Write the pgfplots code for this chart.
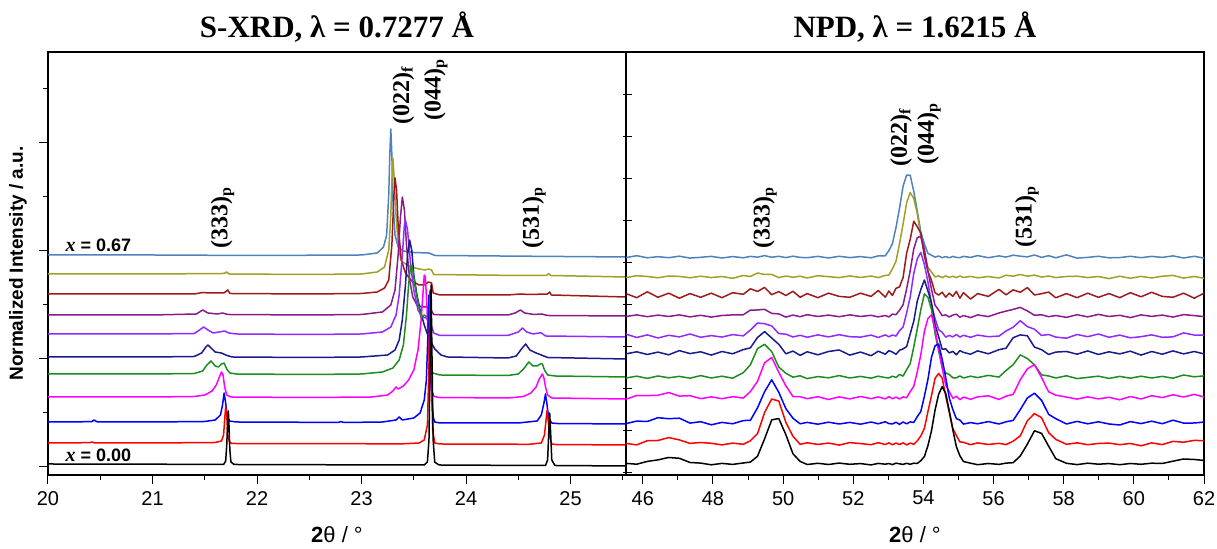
\documentclass[border=0pt]{standalone}
\usepackage{fontspec}
\setmainfont{Liberation Sans}
\newfontfamily\timesfont{Liberation Serif}
\usepackage{pgfplots}
\pgfplotsset{compat=1.18}
\usepackage{pgfplotstable}

\definecolor{cBlack}{HTML}{000000}
\definecolor{cRed}{HTML}{FF0000}
\definecolor{cBlue}{HTML}{0000FF}
\definecolor{cMag}{HTML}{FF00FF}
\definecolor{cGreen}{HTML}{1E8C1E}
\definecolor{cNavy}{HTML}{1A1A8C}
\definecolor{cViolet}{HTML}{8F2BFF}
\definecolor{cPurple}{HTML}{8B1A8B}
\definecolor{cDarkred}{HTML}{9E1A1A}
\definecolor{cOlive}{HTML}{A0A028}
\definecolor{cSteel}{HTML}{4F81BD}

% NPD patterns, one column per composition (a = x 0.00 ... k = x 0.67), offset stacked
\pgfplotstableread{
x      a    b     c     d     e     f     g     h     i     j     k
45.520 11.6 31.6  51.4  75.8  97.0  121.1 140.8 158.5 181.4 197.4 217.4
45.826 10.8 30.1  53.9  79.5  98.8  123.2 137.5 160.1 177.3 199.3 219.3
46.130 13.6 34.3  53.5  79.4  96.6  120.5 140.1 158.3 183.2 198.5 217.2
46.430 15.1 34.5  57.3  79.7  99.0  122.9 137.0 159.9 177.7 197.2 218.3
46.737 17.5 37.4  56.3  82.4  97.2  120.2 139.7 158.5 181.8 199.0 217.3
47.041 16.7 35.1  56.8  78.9  98.6  124.4 138.1 160.1 176.8 198.6 218.8
47.345 12.5 31.6  51.9  79.3  96.8  121.4 141.0 158.1 181.4 197.2 216.9
47.649 11.9 32.5  53.3  76.4  99.4  123.2 137.7 159.7 177.7 198.8 217.7
47.952 10.2 31.7  50.2  78.1  97.0  119.9 139.4 157.9 181.8 197.4 218.6
48.256 11.6 30.1  52.6  76.3  98.8  123.5 137.9 159.5 177.3 198.5 217.0
48.560 10.6 31.9  51.2  78.3  96.8  121.2 140.4 160.1 182.3 196.7 218.4
48.864 12.0 30.7  54.4  76.9  102.3 125.4 139.1 160.2 180.7 199.5 217.2
49.066 12.9 34.2  54.7  83.4  110.2 127.1 144.9 164.9 186.2 198.5 218.6
49.269 18.7 41.3  67.1  93.6  126.3 137.5 152.0 165.0 183.5 202.0 217.8
49.471 36.1 62.5  83.3  112.2 130.7 143.4 151.3 165.7 187.6 200.5 219.4
49.674 55.1 76.0  95.2  117.5 123.4 137.0 149.0 161.6 180.3 200.6 217.7
49.876 56.5 73.9  82.7  102.7 107.9 130.7 141.4 161.1 183.4 197.4 218.7
50.079 40.2 52.5  66.3  89.1  101.7 121.2 140.8 157.9 179.5 199.0 217.4
50.281 21.2 38.7  56.7  78.4  97.8  123.9 138.0 159.9 183.7 197.7 218.8
50.484 13.6 30.7  51.2  78.3  99.2  119.6 139.7 158.3 177.7 198.8 217.6
50.686 10.5 32.2  52.6  76.3  96.4  123.2 137.7 160.3 181.4 197.0 217.3
50.990 11.7 30.6  50.8  78.3  98.4  120.2 140.1 158.5 177.3 199.3 218.6
51.294 10.5 31.9  52.8  75.5  97.2  123.5 138.1 159.9 181.8 198.3 217.0
51.597 11.9 29.9  51.0  78.1  99.4  125.0 140.3 158.3 178.6 197.4 218.7
51.901 10.7 32.4  52.6  76.1  97.0  119.9 138.3 160.1 177.7 199.1 217.4
52.205 11.4 31.4  50.8  78.5  98.6  122.9 137.9 158.5 181.8 197.5 218.4
52.509 10.1 30.3  53.0  76.3  96.8  119.3 139.9 159.7 178.6 199.0 217.2
52.711 11.6 32.3  51.2  78.1  98.8  123.8 137.5 158.1 184.5 197.4 219.1
52.914 10.8 30.5  53.2  76.1  97.4  120.8 140.1 159.5 177.8 199.6 219.2
53.015 11.5 32.1  51.4  78.3  97.0  124.4 138.2 158.0 184.0 199.9 224.4
53.116 10.4 30.3  51.0  76.3  98.8  122.9 140.0 160.9 179.5 206.1 231.2
53.218 11.8 31.9  52.8  77.9  97.5  120.7 138.9 160.3 186.7 213.8 247.5
53.319 11.2 30.5  50.6  76.0  100.6 124.7 144.3 164.8 188.1 231.4 266.9
53.420 10.6 32.1  53.0  78.1  98.9  126.1 147.9 170.3 197.5 250.9 288.8
53.521 11.7 30.1  51.2  77.2  105.3 128.4 162.0 186.2 221.9 272.1 299.9
53.623 10.7 31.9  53.1  83.4  111.2 141.1 177.9 204.2 235.6 282.5 299.7
53.724 11.8 30.7  52.5  88.6  128.0 153.7 201.4 226.0 253.8 276.6 283.8
53.825 11.5 34.1  58.4  103.2 146.0 173.9 216.2 237.4 248.2 261.5 263.9
53.926 14.3 39.1  63.5  120.2 165.4 185.5 222.6 238.6 242.0 238.1 243.2
54.028 18.5 46.7  78.8  143.8 181.2 195.0 210.4 225.8 218.9 220.9 230.9
54.129 29.4 63.4  95.7  156.6 177.7 184.0 193.0 204.0 203.6 207.7 221.6
54.230 44.2 79.3  117.7 160.1 165.5 172.1 170.6 185.8 194.5 202.9 219.8
54.331 64.8 96.5  129.2 145.5 141.5 150.5 156.5 169.8 182.3 198.1 217.8
54.433 80.6 101.5 131.0 126.7 124.1 138.4 145.3 165.0 179.9 199.1 219.0
54.534 88.3 96.9  115.9 106.9 108.4 125.8 142.7 159.3 182.8 197.4 217.3
54.635 81.7 78.9  97.7  90.1  102.0 126.1 137.9 160.2 177.8 199.1 218.4
54.736 64.0 63.0  77.2  83.4  100.5 122.1 139.6 158.0 181.8 197.5 217.2
54.838 45.4 46.7  65.5  76.7  97.2  123.6 138.1 159.9 178.6 198.8 218.6
54.939 28.3 39.5  56.4  78.7  97.2  120.2 140.5 160.8 183.6 197.4 217.6
55.040 19.2 33.1  54.9  75.3  99.0  124.4 137.9 157.7 176.8 199.0 217.3
55.141 13.5 32.7  50.9  77.9  97.0  122.6 139.7 159.5 182.3 197.5 218.6
55.344 11.8 30.3  52.4  75.7  98.8  120.8 137.7 157.4 175.9 198.6 217.6
55.546 10.3 32.1  51.2  78.1  97.4  124.1 139.9 160.1 181.4 197.2 219.4
55.850 11.5 30.5  53.4  79.2  99.6  121.2 138.3 158.4 178.6 198.5 217.3
56.154 10.6 31.7  51.0  75.6  97.9  125.3 138.9 162.0 185.6 197.0 219.1
56.356 11.9 30.4  53.2  78.8  104.5 126.8 144.0 163.9 180.2 199.8 217.9
56.559 12.3 33.8  54.5  80.6  110.3 137.3 147.8 165.6 185.1 198.8 219.8
56.761 19.0 39.1  65.4  95.2  120.1 140.1 154.2 167.6 182.7 200.5 218.8
56.964 30.9 54.3  77.0  106.1 116.5 139.2 148.4 164.1 187.4 198.8 218.1
57.166 44.2 61.4  81.8  110.4 110.1 127.9 145.8 159.7 180.0 199.9 220.0
57.369 41.6 57.3  74.7  97.4  100.1 125.3 139.5 160.2 181.3 197.9 217.6
57.571 28.8 42.3  60.6  83.2  99.0  120.5 140.5 158.3 182.9 199.0 219.3
57.774 16.3 35.6  56.3  79.9  97.0  122.9 137.9 159.5 177.2 197.4 217.2
58.078 11.7 30.7  51.0  77.9  99.2  123.5 136.8 157.6 181.4 198.5 220.1
58.381 10.4 32.1  53.6  75.9  96.4  120.8 140.5 160.3 177.3 198.8 216.9
58.685 11.8 30.3  51.2  78.1  97.6  124.1 138.3 158.1 181.8 197.4 217.6
58.989 10.8 31.5  53.2  76.1  98.8  120.5 141.0 160.6 177.7 198.5 218.7
59.292 11.4 31.9  51.0  77.7  96.6  123.2 137.7 158.5 181.4 196.4 217.2
59.596 10.3 30.3  50.0  75.2  98.6  121.1 139.9 159.7 177.3 198.8 217.4
59.900 11.5 31.5  53.4  78.5  96.8  123.8 137.2 157.4 182.3 196.7 218.7
60.204 10.7 29.2  51.4  76.0  98.8  119.9 138.3 160.1 178.2 198.6 217.3
60.508 11.8 32.1  53.8  79.3  97.0  123.5 140.1 158.6 182.7 197.0 218.6
60.811 11.5 30.4  51.3  77.4  98.6  120.8 137.7 159.9 178.6 198.8 217.6
61.115 13.8 33.6  54.8  80.2  96.8  124.1 138.1 157.9 177.7 199.6 219.1
61.419 16.0 32.8  51.9  78.0  100.0 121.1 142.1 160.4 181.8 196.9 217.0
61.722 15.5 34.6  52.0  80.6  98.2  123.5 139.9 159.4 176.8 198.5 218.7
62.026 14.5 34.3  53.0  77.7  99.2  120.8 139.9 158.3 182.3 196.6 216.7
62.229 11.9 30.5  50.8  78.6  97.4  123.8 138.3 160.3 178.2 199.0 216.0
}\npd

\tikzset{pk/.style={rotate=90, anchor=west, inner sep=0pt, font=\timesfont\bfseries\fontsize{12}{14}\selectfont}}

\begin{document}
\begin{tikzpicture}
\useasboundingbox (-24pt,-37pt) rectangle (584.5pt,237.5pt);
\pgfplotsset{
  panel/.style={
    scale only axis, width=289pt, height=211.5pt, ymin=0, ymax=423,
    axis line style={line width=0.6pt},
    every tick/.style={black, line width=0.5pt},
    tick label style={font=\fontsize{10}{12}\selectfont},
    /pgf/number format/assume math mode=true,
    yticklabels={},
    xtick pos=bottom, ytick pos=left, tick align=outside,
    major tick length=4.5pt, minor tick length=2.5pt,
    xlabel={{\bfseries 2}θ / °},
    xlabel style={font=\fontsize{11}{13}\selectfont, at={(axis description cs:0.5,-0.142)}, anchor=center},
    title style={font=\timesfont\bfseries\fontsize{15.5}{18}\selectfont, at={(axis description cs:0.5,1.007)}, anchor=base},
    every axis plot/.append style={line width=0.75pt, line join=round, mark=none},
  },
}

\begin{axis}[panel, at={(0,0)}, anchor=south west,
  xmin=20, xmax=25.53, xtick={20,...,25}, minor xtick={20.5,21.5,...,25.5},
  ytick={8,116,224,332}, minor ytick={62,170,278,386},
  title={S-XRD, λ = 0.7277 Å},
  ylabel={Normalized Intensity / a.u.},
  ylabel style={font=\bfseries\fontsize{9.5}{11}\selectfont, at={(axis description cs:-0.052,0.5)}, anchor=center},
]
\addplot[cSteel] coordinates {(20,220) (21.0,220) (22.0,219.5) (23.0,220) (23.15,222) (23.21,228) (23.24,240) (23.26,280) (23.27,320) (23.28,346) (23.29,320) (23.30,275) (23.32,240) (23.35,228) (23.40,224) (23.50,222.5) (23.64,222) (23.67,221) (23.70,219.5) (25.53,218)};
\addplot[cOlive] coordinates {(20,201) (21.0,201) (21.68,201.5) (21.71,203) (21.73,201) (22.5,200.5) (23.0,201) (23.15,203) (23.22,208) (23.26,225) (23.28,260) (23.29,295) (23.30,317) (23.31,300) (23.33,260) (23.35,230) (23.38,214) (23.45,209) (23.55,206) (23.61,205) (23.64,206) (23.67,205) (23.69,200.5) (24.5,199.5) (24.77,199.5) (24.79,201.5) (24.81,199.5) (25.53,198)};
\addplot[cDarkred] coordinates {(20,181) (21.0,181) (21.4,181) (21.48,182.5) (21.55,182) (21.68,182) (21.71,184) (21.72,185) (21.74,181.5) (22.5,181) (23.0,181.5) (23.15,183) (23.22,187) (23.26,195) (23.29,230) (23.31,280) (23.32,297) (23.335,285) (23.35,250) (23.38,215) (23.42,202) (23.48,194) (23.55,190) (23.60,190) (23.64,193) (23.67,192) (23.685,182) (23.75,180) (24.4,180) (24.52,181) (24.6,180.5) (24.78,181) (24.80,183) (24.815,180) (25.53,178)};
\addplot[cPurple] coordinates {(20,160) (21.0,160) (21.42,161) (21.48,165) (21.53,162) (21.62,161) (21.67,162) (21.72,160.5) (22.5,160) (23.0,160.5) (23.2,163) (23.28,170) (23.32,185) (23.35,220) (23.37,255) (23.39,278) (23.41,265) (23.43,230) (23.46,195) (23.49,178) (23.53,170) (23.58,168) (23.63,168) (23.66,166) (23.69,160.5) (23.8,160) (24.4,160) (24.47,162) (24.52,165) (24.56,162) (24.65,160.5) (24.72,161) (24.78,159.5) (25.53,159)};
\addplot[cViolet] coordinates {(20,141) (21.0,141) (21.4,141.5) (21.45,145) (21.49,148) (21.53,145) (21.58,142) (21.64,143) (21.69,144) (21.73,142) (21.8,141) (22.5,140.5) (23.0,141) (23.2,143) (23.28,148) (23.33,160) (23.36,180) (23.39,220) (23.41,250) (23.42,255) (23.44,245) (23.47,210) (23.50,185) (23.54,165) (23.58,158) (23.62,157) (23.66,152) (23.69,142) (23.75,139.5) (24.4,139.5) (24.5,143) (24.54,147) (24.58,143) (24.64,141) (24.70,142) (24.72,142) (24.76,139) (25.53,138)};
\addplot[cNavy] coordinates {(20,118) (21.0,118) (21.4,118.5) (21.47,122) (21.51,128) (21.53,130) (21.56,127) (21.60,123) (21.66,122) (21.70,120) (21.76,118) (22.5,117.5) (23.0,118) (23.25,120) (23.32,125) (23.36,135) (23.39,155) (23.42,190) (23.44,220) (23.46,235) (23.48,225) (23.50,200) (23.53,180) (23.56,165) (23.60,150) (23.64,138) (23.70,126) (23.76,120) (23.82,118) (24.4,117) (24.48,119) (24.53,126) (24.57,131) (24.61,125) (24.67,122) (24.72,120) (24.78,117.5) (25.53,116)};
\addplot[cGreen] coordinates {(20,101) (21.0,101) (21.4,101.5) (21.48,104) (21.52,110) (21.56,114) (21.60,109) (21.63,108) (21.66,111) (21.685,112) (21.71,106) (21.74,102) (21.8,101) (22.5,100.5) (23.0,101) (23.2,103) (23.3,107) (23.36,115) (23.40,130) (23.43,160) (23.45,190) (23.47,210) (23.49,205) (23.51,190) (23.54,172) (23.57,157) (23.60,160) (23.63,158) (23.65,140) (23.665,110) (23.68,102) (23.75,100) (24.4,99.5) (24.5,101) (24.55,106) (24.60,113) (24.64,109) (24.68,109) (24.71,111) (24.73,111) (24.75,105) (24.78,100) (24.85,99) (25.53,98)};
\addplot[cMag] coordinates {(20,78) (21.0,78) (21.4,78.5) (21.5,80) (21.57,84) (21.61,90) (21.64,98) (21.66,103) (21.675,100) (21.69,88) (21.71,80) (21.75,78) (22.5,77.5) (23.1,78) (23.25,80) (23.30,84) (23.33,88) (23.35,86) (23.40,89) (23.45,95) (23.50,105) (23.54,125) (23.57,155) (23.59,185) (23.60,200) (23.61,198) (23.625,170) (23.64,130) (23.655,100) (23.67,85) (23.69,79) (23.73,77.5) (24.4,77) (24.55,78.5) (24.62,82) (24.67,88) (24.70,96) (24.73,101) (24.745,97) (24.76,88) (24.78,80) (24.82,77) (25.53,76)};
\addplot[cBlue] coordinates {(20,53) (20.42,53.3) (20.44,55) (20.47,53.2) (21.0,53) (21.5,53.5) (21.6,55) (21.65,60) (21.67,70) (21.685,82) (21.70,72) (21.715,58) (21.735,54) (21.8,53) (22.3,52.8) (22.78,52.5) (22.8,53.5) (22.83,52.5) (23.2,53) (23.33,55) (23.36,58) (23.39,55) (23.5,57) (23.56,62) (23.60,75) (23.62,95) (23.635,140) (23.645,180) (23.655,150) (23.67,80) (23.685,58) (23.70,53) (23.75,52) (24.5,52) (24.68,54) (24.72,60) (24.745,72) (24.76,81) (24.775,70) (24.79,57) (24.82,52) (24.86,51.5) (25.53,51)};
\addplot[cRed] coordinates {(20,32) (20.4,32.3) (20.42,33) (20.45,32) (21.0,32) (21.6,32.5) (21.66,34) (21.68,40) (21.69,55) (21.70,68) (21.71,60) (21.72,40) (21.735,33) (21.76,31.5) (22.5,31.3) (23.4,31.2) (23.55,32) (23.60,35) (23.63,50) (23.645,110) (23.655,185) (23.665,120) (23.68,45) (23.70,32) (23.75,31) (24.6,30.7) (24.72,32) (24.75,40) (24.765,55) (24.775,65) (24.785,55) (24.80,38) (24.82,31) (24.85,30.5) (25.53,30)};
\addplot[cBlack] coordinates {(20,11) (21.0,10.8) (21.68,10.5) (21.70,14) (21.71,30) (21.72,55) (21.725,64) (21.73,55) (21.74,25) (21.75,13) (21.78,10.5) (22.5,10.3) (23.3,10) (23.60,10) (23.63,13) (23.645,35) (23.655,110) (23.665,190) (23.675,110) (23.685,35) (23.70,13) (23.74,10) (24.5,9.6) (24.76,9.5) (24.78,15) (24.79,40) (24.80,62) (24.81,40) (24.82,15) (24.85,9.5) (25.53,9)};
\node[anchor=west, font=\bfseries\fontsize{9}{11}\selectfont] at (axis cs:20.1,230) {{\timesfont\itshape\fontsize{10}{12}\selectfont x} = 0.67};
\node[anchor=west, font=\bfseries\fontsize{9}{11}\selectfont] at (axis cs:20.1,20) {{\timesfont\itshape\fontsize{10}{12}\selectfont x} = 0.00};
\node[pk] at (axis cs:21.67,226) {(333)\textsubscript{p}};
\node[pk] at (axis cs:24.65,226) {(531)\textsubscript{p}};
\node[pk] at (axis cs:23.40,350) {(022)\textsubscript{f}};
\node[pk] at (axis cs:23.71,354) {(044)\textsubscript{p}};
\end{axis}

\begin{axis}[panel, at={(289pt,0)}, anchor=south west,
  xmin=45.52, xmax=62, xtick={46,48,...,62}, minor xtick={47,49,...,61},
  ytick={2,44,86,128,170,212,254,296,338,380}, ytick style={xshift=3pt},
  title={NPD, λ = 1.6215 Å},
]
\addplot[cSteel] table[x=x,y=k] {\npd};
\addplot[cOlive] table[x=x,y=j] {\npd};
\addplot[cDarkred] table[x=x,y=i] {\npd};
\addplot[cPurple] table[x=x,y=h] {\npd};
\addplot[cViolet] table[x=x,y=g] {\npd};
\addplot[cNavy] table[x=x,y=f] {\npd};
\addplot[cGreen] table[x=x,y=e] {\npd};
\addplot[cMag] table[x=x,y=d] {\npd};
\addplot[cBlue] table[x=x,y=c] {\npd};
\addplot[cRed] table[x=x,y=b] {\npd};
\addplot[cBlack] table[x=x,y=a] {\npd};
\node[pk] at (axis cs:49.48,226) {(333)\textsubscript{p}};
\node[pk] at (axis cs:56.95,227) {(531)\textsubscript{p}};
\node[pk] at (axis cs:53.36,308) {(022)\textsubscript{f}};
\node[pk] at (axis cs:54.16,310) {(044)\textsubscript{p}};
\end{axis}
\end{tikzpicture}
\end{document}
